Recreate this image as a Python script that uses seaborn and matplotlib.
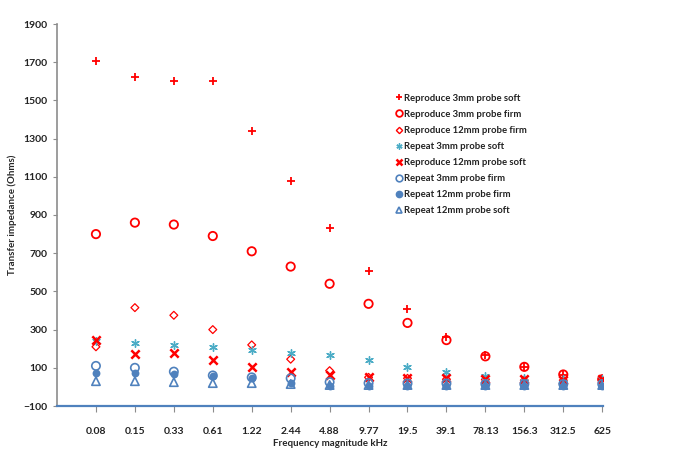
import matplotlib
matplotlib.use("Agg")
import matplotlib.pyplot as plt
import seaborn as sns
import numpy as np
from matplotlib.lines import Line2D

sns.set_theme(style="white")
plt.rcParams['font.family'] = ['Lato', 'DejaVu Sans']

categories = ["0.08", "0.15", "0.33", "0.61", "1.22", "2.44", "4.88", "9.77",
              "19.5", "39.1", "78.13", "156.3", "312.5", "625"]

reproduce_3mm_soft = [1705, 1625, 1600, 1600, 1340, 1080, 830, 605, 410, 260, 165, 105, 60, 40]
reproduce_3mm_firm = [800, 860, 850, 790, 710, 630, 540, 435, 335, 245, 160, 105, 65, 40]
reproduce_12mm_firm = [210, 415, 375, 300, 220, 145, 85, 50, 45, 40, 38, 35, 35, 35]
repeat_3mm_soft = [240, 230, 220, 210, 195, 180, 165, 140, 105, 80, 55, 45, 40, 40]
reproduce_12mm_soft = [245, 170, 180, 140, 105, 80, 60, 50, 45, 45, 40, 40, 35, 40]
repeat_3mm_firm = [110, 100, 80, 60, 50, 45, 25, 20, 18, 18, 15, 15, 15, 15]
repeat_12mm_firm = [75, 75, 70, 55, 45, 20, 5, 5, 5, 5, 5, 5, 5, 5]
repeat_12mm_soft = [30, 30, 25, 20, 20, 15, 10, 10, 10, 10, 10, 10, 10, 10]

labels = ["Reproduce 3mm probe soft", "Reproduce 3mm probe firm", "Reproduce 12mm probe firm",
          "Repeat 3mm probe soft", "Reproduce 12mm probe soft", "Repeat 3mm probe firm",
          "Repeat 12mm probe firm", "Repeat 12mm probe soft"]

RED = "#FF0000"
BLUE = "#4F81BD"
CYAN = "#4BACC6"

series = [
    (reproduce_3mm_soft, dict(marker="+", s=30, color=RED, linewidth=1.3)),
    (reproduce_3mm_firm, dict(marker="o", s=36, facecolor="none", edgecolor=RED, linewidth=1.3)),
    (reproduce_12mm_firm, dict(marker="D", s=16, facecolor="none", edgecolor=RED, linewidth=0.9)),
    (repeat_3mm_soft, dict(marker=(6, 2, 0), s=30, color=CYAN, linewidth=1.0)),
    (reproduce_12mm_soft, dict(marker="x", s=36, color=RED, linewidth=1.8)),
    (repeat_3mm_firm, dict(marker="o", s=36, facecolor="none", edgecolor=BLUE, linewidth=1.2)),
    (repeat_12mm_firm, dict(marker="o", s=32, color=BLUE, linewidth=0)),
    (repeat_12mm_soft, dict(marker="^", s=36, facecolor="none", edgecolor=BLUE, linewidth=1.2)),
]

fig = plt.figure(figsize=(6.85, 4.61), dpi=100)
ax = fig.add_axes([57/685, 1-406/461, (603-57)/685, (406-24)/461])

x = np.arange(len(categories))
for vals, kw in series:
    sns.scatterplot(x=x, y=vals, ax=ax, legend=False, **kw)

ax.set_xlim(-1, 13.02)
ax.set_ylim(-100, 1900)
ax.set_yticks(np.arange(-100, 1901, 200))
ax.set_xticks(x)
ax.set_xticklabels(categories)

for s in ["top", "right"]:
    ax.spines[s].set_visible(False)
ax.spines["left"].set_color("#8C8C8C")
ax.spines["left"].set_linewidth(1.2)
ax.spines["bottom"].set_color("#4F81BD")
ax.spines["bottom"].set_linewidth(1.6)

ax.tick_params(axis="y", direction="out", length=3, width=0.8, color="#8C8C8C",
               labelsize=7.5, pad=4, left=True)
ax.tick_params(axis="x", direction="out", length=4, width=0.8, color="#8C8C8C",
               labelsize=7.5, pad=11, bottom=True)
for t in ax.get_xticklabels() + ax.get_yticklabels():
    t.set_fontweight("bold")
    t.set_color("#222222")

ax.set_ylabel("Transfer impedance (Ohms)", fontsize=7, fontweight="bold", labelpad=4)
ax.set_xlabel("Frequency magnitude kHz", fontsize=7, fontweight="bold", labelpad=2)

handles = []
for (vals, kw), lab in zip(series, labels):
    mk = kw["marker"]
    face = kw.get("facecolor", kw.get("color"))
    edge = kw.get("edgecolor", kw.get("color"))
    handles.append(Line2D([0], [0], linestyle="none", marker=mk,
                          markersize=np.sqrt(kw["s"]) * 0.8,
                          markerfacecolor=face, markeredgecolor=edge,
                          markeredgewidth=max(kw.get("linewidth", 1), 1), label=lab))
leg = ax.legend(handles=handles, loc="upper left", bbox_to_anchor=(390/685, 1-89/461),
                bbox_transform=fig.transFigure, frameon=False, fontsize=6.8,
                handletextpad=0.05, handlelength=0.9, labelspacing=0.75, borderpad=0)
for t in leg.get_texts():
    t.set_fontweight("bold")
    t.set_color("#222222")

fig.savefig("out.png", dpi=100)
